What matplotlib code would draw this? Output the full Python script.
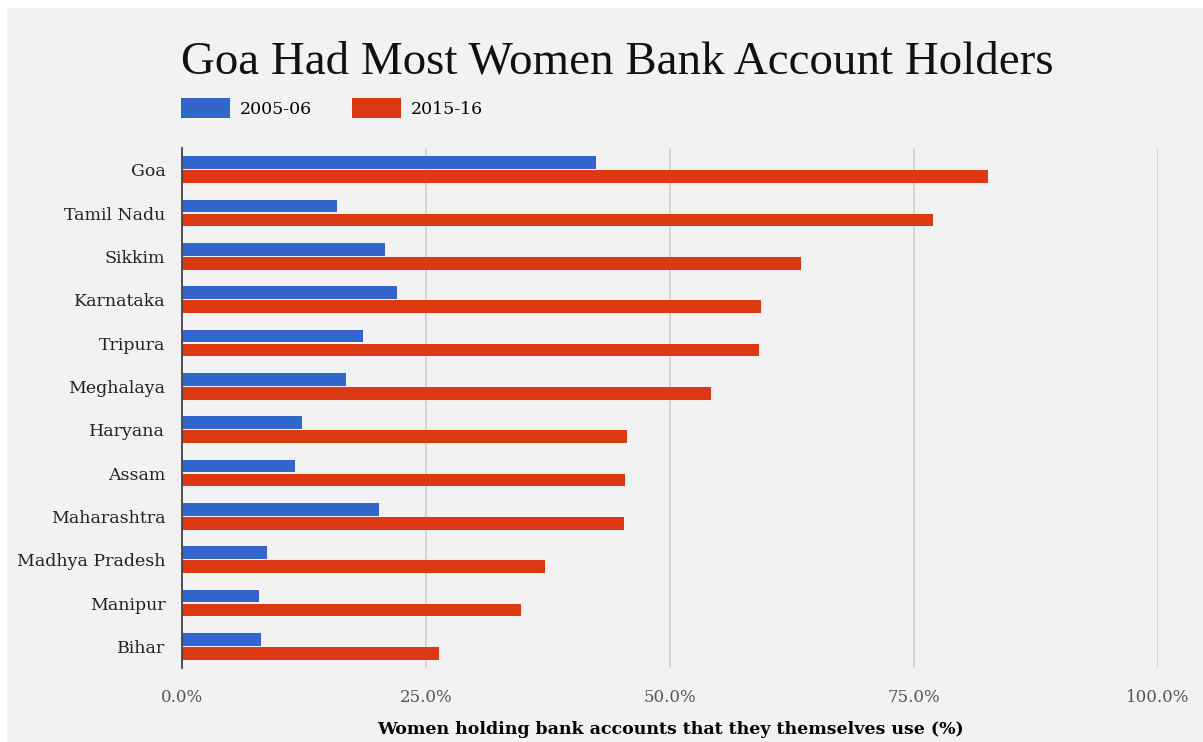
import numpy as np
import matplotlib.pyplot as plt
from matplotlib.patches import Rectangle
from matplotlib.ticker import FuncFormatter

# Data (share of women, %)
states = ['Goa', 'Tamil Nadu', 'Sikkim', 'Karnataka', 'Tripura', 'Meghalaya',
          'Haryana', 'Assam', 'Maharashtra', 'Madhya Pradesh', 'Manipur', 'Bihar']
y2005 = [42.4, 15.9, 20.8, 22.0, 18.5, 16.8, 12.3, 11.6, 20.2, 8.7, 7.9, 8.1]
y2015 = [82.6, 76.9, 63.4, 59.3, 59.1, 54.2, 45.6, 45.4, 45.3, 37.2, 34.7, 26.3]
series_names = ['2005-06', '2015-16']
xticks = [0, 25, 50, 75, 100]

blue = '#3366cc'
red = '#dc3912'
bg = '#f2f2f2'
serif = ['Liberation Serif', 'DejaVu Serif']
wide = ['DejaVu Serif']

fig = plt.figure(figsize=(12.03, 7.42), dpi=100, facecolor='white')
# grey panel, white strip on top and left
fig.patches.append(Rectangle((7/1203, 0), 1, 1 - 8/742, transform=fig.transFigure,
                             facecolor=bg, edgecolor='none', zorder=-10))

ax = fig.add_axes([182/1203, 1 - 668/742, (1158-182)/1203, (668-148)/742])
ax.set_facecolor(bg)

y = np.arange(len(states))
h = 0.29
off = 0.16
b1 = ax.barh(y - off, y2005, height=h, color=blue, label=series_names[0], zorder=3)
b2 = ax.barh(y + off, y2015, height=h, color=red, label=series_names[1], zorder=3)

ax.set_ylim(len(states) - 0.5, -0.5)
ax.set_xlim(0, 100)
ax.set_yticks(y)
ax.set_yticklabels(states, fontfamily=wide, fontsize=12.5, color='#222222')
ax.set_xticks(xticks)
ax.xaxis.set_major_formatter(FuncFormatter(lambda v, p: f'{v:.1f}%'))
for lab in ax.get_xticklabels():
    lab.set_fontfamily(wide)
    lab.set_fontsize(12)
    lab.set_color('#555555')
ax.tick_params(axis='y', length=0, pad=12)
ax.tick_params(axis='x', length=0, pad=15)
ax.grid(axis='x', color='#d4d4d4', linewidth=1.3, zorder=0)

for s in ['top', 'right', 'bottom']:
    ax.spines[s].set_visible(False)
ax.spines['left'].set_color('#444444')
ax.spines['left'].set_linewidth(1.3)
ax.spines['left'].set_zorder(4)

ax.set_xlabel('Women holding bank accounts that they themselves use (%)',
              fontfamily=wide, fontsize=12.5, fontweight='bold', labelpad=11)

fig.text(181/1203, 1 - 62/742, 'Goa Had Most Women Bank Account Holders',
         fontfamily=serif, fontsize=33.8, va='center', ha='left', color='#111111')

fig.legend(handles=[b1, b2], labels=series_names, loc='center left',
           bbox_to_anchor=(181/1203, 1 - 108/742), ncol=2, frameon=False,
           prop={'family': wide, 'size': 12.5}, handlelength=2.8, handleheight=1.4,
           handletextpad=0.6, columnspacing=2.3, borderaxespad=0, borderpad=0)

fig.savefig('out.png', dpi=100, facecolor='white')
